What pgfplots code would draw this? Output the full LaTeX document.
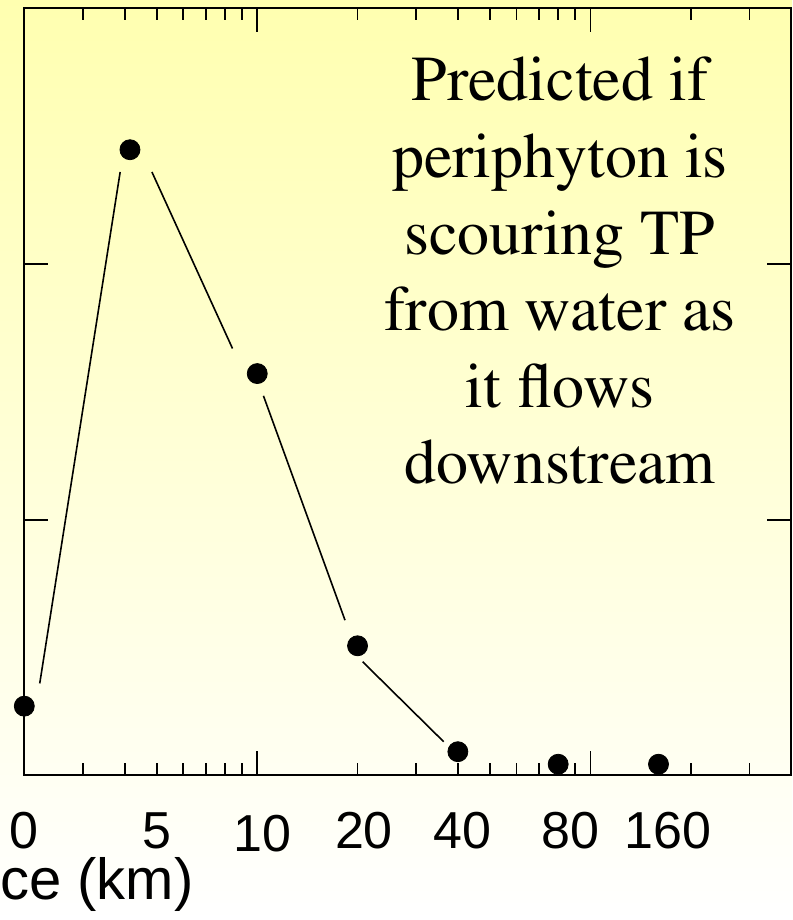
\documentclass[border=0pt]{standalone}
\usepackage[T1]{fontenc}
\usepackage{pgfplots}
\pgfplotsset{compat=1.18}
\usepackage{fontspec}
\setsansfont{Liberation Sans}
\newfontfamily\arialfont{Liberation Sans}
\newcommand\timesfont{\fontencoding{T1}\fontfamily{ptm}\selectfont}
\definecolor{bgtop}{RGB}{255,255,176}

\begin{document}
\begin{tikzpicture}
  \useasboundingbox (0,0) rectangle (396pt,460pt);
  \clip (0,0) rectangle (396pt,460pt);
  \shade[top color=bgtop, bottom color=white] (0,0) rectangle (396pt,460pt);

  \begin{axis}[
    at={(12.15pt,72.25pt)}, anchor=south west,
    scale only axis, width=383.4pt, height=383.75pt,
    xmode=log, xmin=2, xmax=400,
    ymin=0, ymax=3,
    clip=false,
    axis line style={line width=1pt},
    tick align=inside,
    tick style={black, line width=0.9pt},
    major tick length=12pt, minor tick length=6pt,
    xtick={10,100}, xticklabels={,},
    minor xtick={3,4,5,6,7,8,9,20,30,40,50,60,70,80,90,200,300},
    ytick={1,2}, yticklabels={,},
    extra x ticks={2,5,10.35,20.9,41.3,87,171},
    extra x tick labels={0,5,\raisebox{-1.5pt}{10},20,40,80,160},
    extra x tick style={major tick length=0pt},
    /pgf/number format/assume math mode=true,
    xticklabel style={font=\arialfont\fontsize{26}{30}\selectfont,
      inner sep=0pt, anchor=base, yshift=-36.25pt},
  ]
    % connecting segments, each stopping short of the markers
    \addplot[black, line width=0.8pt] coordinates {(2.225,0.360) (3.879,2.359)};
    \addplot[black, line width=0.8pt] coordinates {(4.83,2.359) (8.43,1.669)};
    \addplot[black, line width=0.8pt] coordinates {(10.44,1.484) (18.34,0.607)};
    \addplot[black, line width=0.8pt] coordinates {(20.72,0.4445) (36.27,0.132)};

    % predicted values
    \addplot[black, only marks, mark=*, mark size=5pt]
      coordinates {
        (2,0.271) (4.15,2.446) (10,1.571) (20,0.507)
        (40,0.093) (80,0.044) (160,0.044)
      };
  \end{axis}

  \node[anchor=base east, inner sep=0pt,
    font=\arialfont\fontsize{29}{34}\selectfont] at (97pt,10pt) {Distance (km)};

  \foreach \txt [count=\i from 0] in {Predicted if, periphyton is,
      scouring TP, from water as, it flows, downstream}
    \node[anchor=base, inner sep=0pt, font=\timesfont\fontsize{32}{38}\selectfont]
      at (280pt,409.5pt-\i*38.3pt) {\txt};
\end{tikzpicture}
\end{document}
